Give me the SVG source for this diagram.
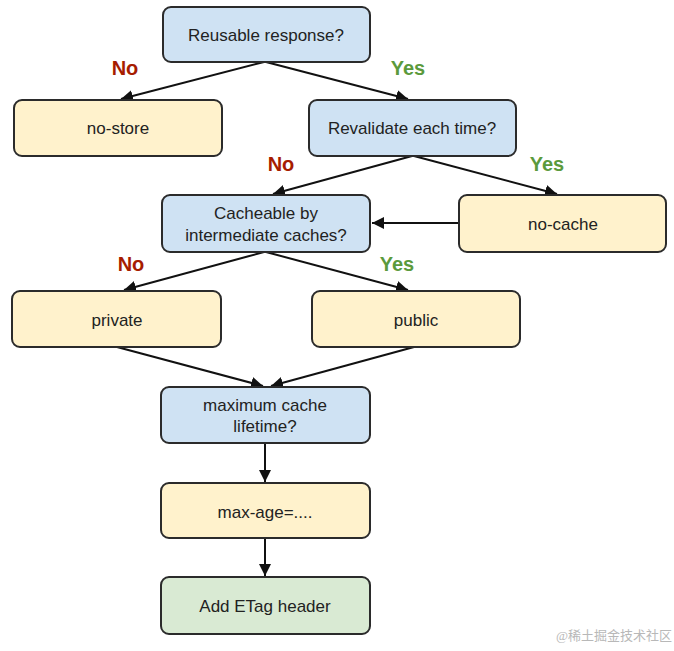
<svg xmlns="http://www.w3.org/2000/svg" width="674" height="651" viewBox="0 0 674 651">
<style>
.box{stroke:#2b2b2b;stroke-width:2}
.q{fill:#cfe2f3}
.a{fill:#fff2cc}
.g{fill:#d9ead3}
.t{font-family:"Liberation Sans",Arial,sans-serif;font-size:17px;fill:#222;text-anchor:middle;dominant-baseline:central}
.no{font-family:"Liberation Sans",Arial,sans-serif;font-size:20px;font-weight:bold;fill:#a61c00;text-anchor:middle;dominant-baseline:central}
.yes{font-family:"Liberation Sans",Arial,sans-serif;font-size:20px;font-weight:bold;fill:#5b9a3c;text-anchor:middle;dominant-baseline:central}
.c{stroke:#111;stroke-width:2;fill:none;marker-end:url(#ah)}
</style>
<defs>
<marker id="ah" viewBox="0 0 10 10" refX="10" refY="5" markerWidth="6" markerHeight="6" markerUnits="strokeWidth" orient="auto">
<path d="M0,0 L10,5 L0,10 z" fill="#111"/>
</marker>
</defs>
<rect width="674" height="651" fill="#fff"/>
<g id="connectors">
<line class="c" x1="264" y1="62" x2="121" y2="99"/>
<line class="c" x1="266" y1="62" x2="408" y2="99"/>
<line class="c" x1="412" y1="156" x2="273" y2="194"/>
<line class="c" x1="414" y1="156" x2="557" y2="194"/>
<line class="c" x1="459" y1="223" x2="372" y2="223"/>
<line class="c" x1="264" y1="252" x2="124" y2="290"/>
<line class="c" x1="266" y1="252" x2="408" y2="290"/>
<line class="c" x1="117" y1="347" x2="263" y2="386"/>
<line class="c" x1="414" y1="347" x2="271" y2="386"/>
<line class="c" x1="265" y1="443" x2="265" y2="482"/>
<line class="c" x1="265" y1="538" x2="265" y2="576"/>
</g>
<g id="labels">
<text class="no" x="125" y="68">No</text>
<text class="yes" x="408" y="68">Yes</text>
<text class="no" x="281" y="164">No</text>
<text class="yes" x="547" y="164">Yes</text>
<text class="no" x="131" y="264">No</text>
<text class="yes" x="397" y="264">Yes</text>
</g>
<g id="reusable"><rect class="box q" x="163" y="7" width="207" height="55" rx="8"/><text class="t" x="266" y="35">Reusable response?</text></g>
<g id="nostore"><rect class="box a" x="14" y="100" width="208" height="56" rx="8"/><text class="t" x="118" y="128">no-store</text></g>
<g id="revalidate"><rect class="box q" x="309" y="100" width="207" height="56" rx="8"/><text class="t" x="412" y="128">Revalidate each time?</text></g>
<g id="cacheable"><rect class="box q" x="162" y="195" width="208" height="57" rx="8"/><text class="t" x="266" y="213">Cacheable by</text><text class="t" x="266" y="235">intermediate caches?</text></g>
<g id="nocache"><rect class="box a" x="459" y="195" width="207" height="57" rx="8"/><text class="t" x="563" y="224">no-cache</text></g>
<g id="private"><rect class="box a" x="12" y="291" width="209" height="56" rx="8"/><text class="t" x="117" y="320">private</text></g>
<g id="public"><rect class="box a" x="312" y="291" width="208" height="56" rx="8"/><text class="t" x="416" y="320">public</text></g>
<g id="maxlifetime"><rect class="box q" x="161" y="387" width="209" height="56" rx="8"/><text class="t" x="265" y="405">maximum cache</text><text class="t" x="265" y="426">lifetime?</text></g>
<g id="maxage"><rect class="box a" x="161" y="483" width="209" height="55" rx="8"/><text class="t" x="265" y="512">max-age=....</text></g>
<g id="etag"><rect class="box g" x="161" y="577" width="209" height="57" rx="8"/><text class="t" x="265" y="606">Add ETag header</text></g>
<text x="672" y="640" text-anchor="end" font-family="'Liberation Serif','Noto Sans CJK SC',serif" font-size="13" fill="#b8b8b8">@稀土掘金技术社区</text>
</svg>
